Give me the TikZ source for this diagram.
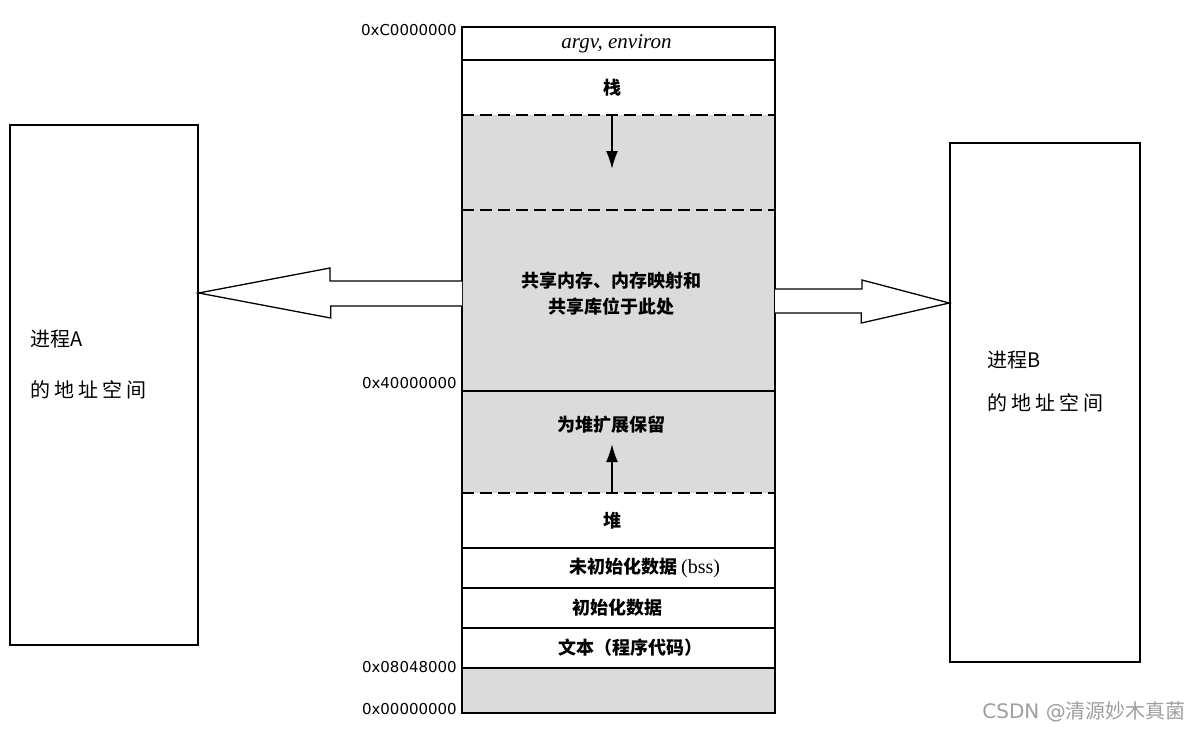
\documentclass[tikz,border=0pt]{standalone}
\usepackage{fontspec}
\setmainfont{DejaVu Sans}
\newfontfamily\cjk{Noto Sans CJK SC}
\newfontfamily\cjkwide[LetterSpace=20]{Noto Sans CJK SC}
\newfontfamily\romanfont{Liberation Serif}
\usetikzlibrary{arrows.meta}
\begin{document}
\begin{tikzpicture}[x=1pt, y=-1pt, >={Latex[length=18pt,width=12pt]},
    seg/.style={minimum width=313pt, minimum height=#1, anchor=north, inner sep=0pt, outer sep=0pt},
    shade/.style={fill=black!14},
    lbl/.style={font=\cjk\bfseries\fontsize{18}{26}\selectfont, align=center, inner sep=0pt},
    addr/.style={font=\fontsize{15}{18}\selectfont, anchor=east, inner sep=0pt},
    proc/.style={draw, line width=1.4pt, minimum width=#1, inner sep=0pt},
    ptext/.style={font=\cjk\fontsize{20}{22}\selectfont, anchor=west, inner sep=0pt},
    hollow/.style={draw, line width=1.3pt, fill=white, line join=miter},
    sep/.style={line width=1.4pt},
    dsep/.style={line width=1.4pt, dash pattern=on 12pt off 6pt}]
  \useasboundingbox (0,0) rectangle (1191,732);
  % memory column, top to bottom
  \node[seg=33pt] (argv) at (618.5,27) {};
  \node[seg=55pt] (stack) at (argv.south) {};
  \node[seg=95pt, shade] (gap) at (stack.south) {};
  \node[seg=181pt, shade] (shared) at (gap.south) {};
  \node[seg=102pt, shade] (reserve) at (shared.south) {};
  \node[seg=55pt] (heap) at (reserve.south) {};
  \node[seg=40pt] (bss) at (heap.south) {};
  \node[seg=40pt] (data) at (bss.south) {};
  \node[seg=40pt] (text) at (data.south) {};
  \node[seg=45pt, shade] (low) at (text.south) {};
  \draw[sep] (argv.north west) rectangle (low.south east);
  \draw[sep] (argv.south west) -- (argv.south east);
  \draw[dsep] (stack.south west) -- (stack.south east);
  \draw[dsep] (gap.south west) -- (gap.south east);
  \draw[sep] (shared.south west) -- (shared.south east);
  \draw[dsep] (reserve.south west) -- (reserve.south east);
  \draw[sep] (heap.south west) -- (heap.south east);
  \draw[sep] (bss.south west) -- (bss.south east);
  \draw[sep] (data.south west) -- (data.south east);
  \draw[sep] (text.south west) -- (text.south east);
  % labels in the column
  \node[inner sep=0pt, font=\romanfont\itshape\fontsize{21}{22}\selectfont] (argvlbl) at ([xshift=-2pt]argv.center) {argv, environ};
  \node[lbl] (stacklbl) at ([xshift=-6pt]stack.center) {栈};
  \node[lbl] (sharedlbl) at (611,294) {共享内存、内存映射和\\共享库位于此处};
  \node[lbl] (reservelbl) at (611,425) {为堆扩展保留};
  \node[lbl] (heaplbl) at ([xshift=-6pt]heap.center) {堆};
  \node[lbl] (bsslbl) at ([xshift=26pt]bss.center) {未初始化数据 {\romanfont\mdseries\fontsize{20}{22}\selectfont(bss)}};
  \node[lbl] (datalbl) at ([xshift=-1pt]data.center) {初始化数据};
  \node[lbl] (textlbl) at ([xshift=12pt]text.center) {文本（程序代码）};
  % growth arrows
  \draw[->, line width=1.8pt] ([xshift=-6.5pt]gap.north) -- ++(0,54);
  \draw[->, line width=1.8pt] ([xshift=-6.5pt]heap.north) -- ++(0,-49);
  % addresses
  \node[addr] (addrC) at (457,30) {0xC0000000};
  \node[addr] (addr4) at (457,383) {0x40000000};
  \node[addr] (addr8) at (457,667) {0x08048000};
  \node[addr] (addr0) at (457,709) {0x00000000};
  % process address spaces
  \node[proc=188pt, minimum height=520pt] (boxA) at (104,385) {};
  \node[proc=190pt, minimum height=519pt] (boxB) at (1045,402.5) {};
  \node[ptext] (boxAtop) at (30,339) {进程A};
  \node[ptext] (boxAbot) at (30,390) {\cjkwide 的地址空间};
  \node[ptext] (boxBtop) at (987,360) {进程B};
  \node[ptext] (boxBbot) at (987,403) {\cjkwide 的地址空间};
  % mapping arrows
  \coordinate (atip) at (boxA.east |- 0,293);
  \coordinate (btip) at (boxB.west |- 0,303);
  \draw[hollow] (shared.west |- 0,281) -- ++(-132,0) -- ++(0,-13) -- (atip) -- ++(132,25) -- ++(0,-12) -- (shared.west |- 0,306);
  \draw[hollow] (shared.east |- 0,289) -- ++(87,0) -- ++(0,-9) -- (btip) -- ++(-88,20) -- ++(0,-10) -- (shared.east |- 0,313);
  \node[anchor=east, inner sep=0pt, text=black!38, font=\fontsize{20}{22}\selectfont] (mark) at (1186,712) {CSDN @{\cjk 清源妙木真菌}};
\end{tikzpicture}
\end{document}
